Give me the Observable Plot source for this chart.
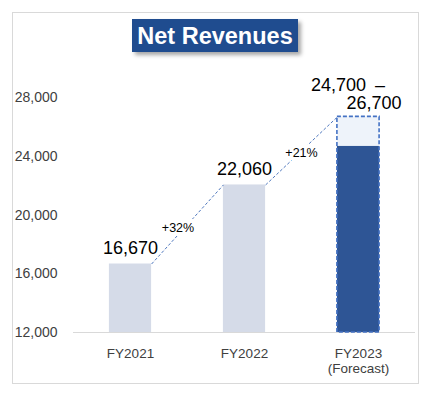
<!DOCTYPE html>
<html><head><meta charset="utf-8">
<script src="https://cdn.jsdelivr.net/npm/d3@7"></script>
<script src="https://cdn.jsdelivr.net/npm/@observablehq/plot@0.6"></script>
<style>
body{margin:0;background:#fff;font-family:"Liberation Sans",Arial,sans-serif;}
#wrap{position:relative;width:431px;height:393px;overflow:hidden;}
#frame{position:absolute;left:12px;top:12px;width:405px;height:370px;border:1px solid #D9D9D9;}
#chart{position:absolute;left:0;top:0;}
#title{position:absolute;left:132px;top:19px;width:166px;height:33px;background:#1F4C8F;color:#fff;font-weight:bold;font-size:23.5px;line-height:34px;text-align:center;box-shadow:3px 3px 4px rgba(0,0,0,0.35);z-index:2;}
</style></head>
<body>
<div id="wrap"><div id="frame"></div><div id="chart"></div><div id="title">Net Revenues</div></div>
<script>
const years = ["FY2021", "FY2022", "FY2023\n(Forecast)"];
const revenues = [16670, 22060, 24700];
const forecastHigh = 26700;
const growthLabels = ["+32%", "+21%"];
const yTicks = [12000, 16000, 20000, 24000, 28000];
const base = 12000;

const HW = 0.185; // half bar width in x units
const fmt = d3.format(",");
const rows = years.map((y, i) => ({i, year: y, value: revenues[i]}));
const actual = rows.slice(0, 2);
const fc = [{i: 2, low: revenues[2], high: forecastHigh}];
const tops = [revenues[0], revenues[1], forecastHigh];
const links = growthLabels.map((g, i) => ({i, label: g, y1: tops[i], y2: tops[i + 1]}));

const plot = Plot.plot({
  width: 431, height: 393,
  marginLeft: 73, marginRight: 16, marginTop: 68, marginBottom: 61,
  x: {domain: [-0.5, 2.5], label: null},
  y: {domain: [12000, 30000], label: null},
  style: {fontFamily: '"Liberation Sans", Arial, sans-serif', fontSize: "13px", background: "transparent", color: "#404040"},
  marks: [
    Plot.ruleY([base], {stroke: "#D9D9D9"}),
    Plot.rectY(actual, {x1: d => d.i - HW, x2: d => d.i + HW, y1: base, y2: "value", fill: "#D5DBE8"}),
    Plot.rectY(fc, {x1: d => d.i - HW, x2: d => d.i + HW, y1: base, y2: "low", fill: "#2E5595"}),
    Plot.rectY(fc, {x1: d => d.i - HW, x2: d => d.i + HW, y1: "low", y2: "high", fill: "#EEF3FA"}),
    Plot.rectY(fc, {x1: d => d.i - HW, x2: d => d.i + HW, y1: base, y2: "high", fill: "none", stroke: "#4472C4", strokeWidth: 1.6, strokeDasharray: "4,2"}),
    Plot.link(links, {x1: d => d.i + HW, x2: d => d.i + 1 - HW, y1: "y1", y2: "y2", stroke: "#4F78BE", strokeWidth: 1, strokeDasharray: "3,2"}),
    Plot.text(links.filter(d => d.i === 0), {x: d => d.i + 0.5, y: d => (d.y1 + d.y2) / 2, text: "label", dx: -9.5, dy: 3.5, fontSize: 12.5, fill: "#000", stroke: "white", strokeWidth: 8}),
    Plot.text(links.filter(d => d.i === 1), {x: d => d.i + 0.5, y: d => (d.y1 + d.y2) / 2, text: "label", dx: 0, dy: 2.5, fontSize: 12.5, fill: "#000", stroke: "white", strokeWidth: 8}),
    Plot.text(actual, {x: "i", y: "value", text: d => fmt(d.value), dy: -16, fontSize: 18, fill: "#000"}),
    Plot.text(fc, {x: "i", y: "high", text: d => fmt(d.low) + "\u2002\u2013", dx: -10.5, dy: -32, fontSize: 18, fill: "#000"}),
    Plot.text(fc, {x: "i", y: "high", text: d => fmt(d.high), dx: 15.5, dy: -14, fontSize: 18, fill: "#000"}),
    Plot.axisY({ticks: yTicks, tickFormat: fmt, tickSize: 0, tickPadding: 16, fontSize: 14, fill: "#404040", label: null}),
    Plot.axisX({ticks: [0, 1, 2], tickFormat: i => years[i], tickSize: 0, tickPadding: 14, fontSize: 13.5, lineHeight: 1.15, fill: "#404040", label: null})
  ]
});
document.getElementById("chart").appendChild(plot);
</script>
</body></html>
